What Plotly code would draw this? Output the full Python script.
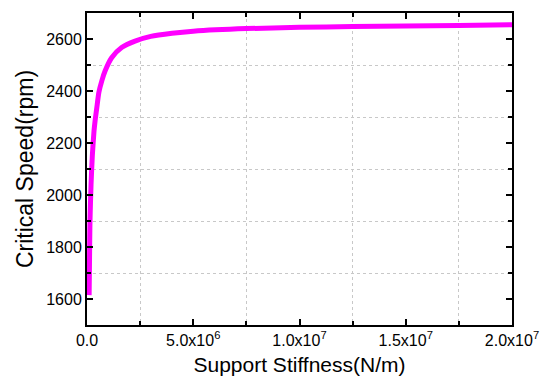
import plotly.graph_objects as go

# Data
stiffness = [1.0e5, 1.2e5, 1.4e5, 1.9e5, 2.5e5, 3.3e5, 3.8e5, 4.6e5, 5.6e5, 7.0e5,
             8.5e5, 1.16e6, 1.63e6, 2.26e6, 3.0e6, 4.0e6, 5.0e6, 7.5e6,
             1.0e7, 1.25e7, 1.5e7, 1.75e7, 2.0e7]
speed = [1615, 1760, 1900, 2040, 2150, 2246, 2285, 2335, 2395, 2440,
         2477, 2528, 2567, 2592, 2610, 2622, 2630, 2640,
         2645, 2648, 2650, 2652, 2655]

x_tickvals = [0, 5e6, 1e7, 1.5e7, 2e7]
x_ticktext = ["0.0", "5.0x10<sup>6</sup>", "1.0x10<sup>7</sup>",
              "1.5x10<sup>7</sup>", "2.0x10<sup>7</sup>"]
x_gridvals = [2.5e6, 7.5e6, 1.25e7, 1.75e7]
y_tickvals = [1600, 1800, 2000, 2200, 2400, 2600]
y_gridvals = [1700, 1900, 2100, 2300, 2500]
x_range = [0, 2e7]
y_range = [1500, 2700]

fig = go.Figure()
# empty helper trace so that the grid-only overlay axes get drawn
fig.add_trace(go.Scatter(x=[], y=[], xaxis="x2", yaxis="y2", mode="lines",
                         showlegend=False, hoverinfo="skip"))
fig.add_trace(go.Scatter(
    x=stiffness, y=speed, mode="lines",
    line=dict(color="#ff00ff", width=5, shape="spline", smoothing=0.6),
    showlegend=False, hoverinfo="skip",
))

font_family = "Liberation Sans, Arial, sans-serif"
grid_color = "#c8c8c8"
fig.update_layout(
    width=550, height=383,
    margin=dict(l=87, r=38, t=13, b=58),
    paper_bgcolor="white", plot_bgcolor="white",
    font=dict(family=font_family, color="black"),
    xaxis=dict(
        range=x_range, automargin=False,
        tickmode="array", tickvals=x_tickvals, ticktext=x_ticktext,
        tickfont=dict(size=16),
        ticks="inside", ticklen=6, tickwidth=1.5, tickcolor="black",
        showline=True, linewidth=2, linecolor="black", mirror="ticks",
        showgrid=False, zeroline=False,
        minor=dict(dtick=2.5e6, tick0=0, ticks="inside", ticklen=4,
                   tickwidth=1.5, tickcolor="black", showgrid=False),
        title=dict(text="Support Stiffness(N/m)", font=dict(size=21), standoff=9),
    ),
    yaxis=dict(
        range=y_range, automargin=False,
        tickmode="array", tickvals=y_tickvals,
        tickfont=dict(size=16),
        ticks="inside", ticklen=6, tickwidth=1.5, tickcolor="black",
        showline=True, linewidth=2, linecolor="black", mirror="ticks",
        showgrid=False, zeroline=False,
        minor=dict(dtick=100, tick0=1500, ticks="inside", ticklen=4,
                   tickwidth=1.5, tickcolor="black", showgrid=False),
        title=dict(text="Critical Speed(rpm)", font=dict(size=23), standoff=6),
    ),
    xaxis2=dict(
        overlaying="x", anchor="y2", range=x_range, automargin=False,
        tickmode="array", tickvals=x_gridvals, showticklabels=False, ticks="",
        showgrid=True, gridcolor=grid_color, griddash="dot", gridwidth=1,
        showline=False, zeroline=False,
    ),
    yaxis2=dict(
        overlaying="y", anchor="x2", range=y_range, automargin=False,
        tickmode="array", tickvals=y_gridvals, showticklabels=False, ticks="",
        showgrid=True, gridcolor=grid_color, griddash="dot", gridwidth=1,
        showline=False, zeroline=False,
    ),
)

fig.write_html("out.html", config={"displayModeBar": False},
               post_script="document.body.style.margin='0';")
